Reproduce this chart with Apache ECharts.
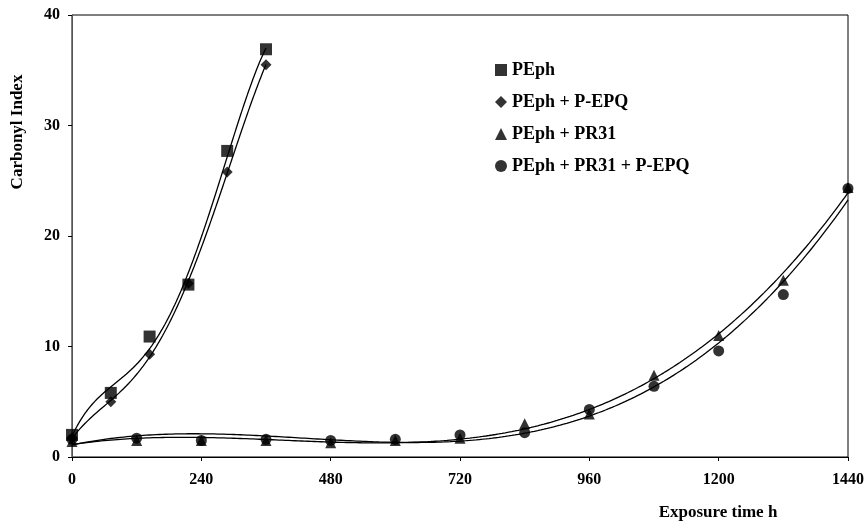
<!DOCTYPE html>
<html>
<head>
<meta charset="utf-8">
<script src="https://cdn.jsdelivr.net/npm/echarts@6/dist/echarts.min.js"></script>
<style>
  html, body { margin: 0; padding: 0; background: #fff; }
  #chart { width: 868px; height: 526px; }
</style>
</head>
<body>
<div id="chart"></div>
<script>
// Exposure times (h)
const timesShort = [0, 72, 144, 216, 288, 360];
const timesLong = [0, 120, 240, 360, 480, 600, 720, 840, 960, 1080, 1200, 1320, 1440];

// Carbonyl index per formulation
const pephValues = [2.0, 5.8, 10.9, 15.6, 27.7, 36.9];
const pephPepqValues = [1.7, 5.0, 9.3, 15.7, 25.8, 35.5];
const pephPr31Values = [1.4, 1.5, 1.5, 1.5, 1.3, 1.5, 1.7, 3.0, 3.9, 7.4, 11.0, 16.0, 24.4];
const pephPr31PepqValues = [1.6, 1.7, 1.5, 1.6, 1.5, 1.6, 2.0, 2.2, 4.3, 6.4, 9.6, 14.7, 24.3];

const seriesNames = ['PEph', 'PEph + P-EPQ', 'PEph + PR31', 'PEph + PR31 + P-EPQ'];
const xTicks = [0, 240, 480, 720, 960, 1200, 1440];

// Least-squares polynomial trend line, evaluated along the x range
function polyTrend(xs, ys, deg, steps) {
  const xmax = xs[xs.length - 1];
  const n = deg + 1;
  const A = Array.from({ length: n }, () => new Array(n).fill(0));
  const b = new Array(n).fill(0);
  xs.forEach((x, k) => {
    const t = x / xmax;
    for (let i = 0; i < n; i++) {
      b[i] += ys[k] * Math.pow(t, i);
      for (let j = 0; j < n; j++) A[i][j] += Math.pow(t, i + j);
    }
  });
  // Gaussian elimination with partial pivoting
  for (let c = 0; c < n; c++) {
    let p = c;
    for (let r = c + 1; r < n; r++) if (Math.abs(A[r][c]) > Math.abs(A[p][c])) p = r;
    [A[c], A[p]] = [A[p], A[c]];
    [b[c], b[p]] = [b[p], b[c]];
    for (let r = c + 1; r < n; r++) {
      const f = A[r][c] / A[c][c];
      for (let j = c; j < n; j++) A[r][j] -= f * A[c][j];
      b[r] -= f * b[c];
    }
  }
  const coef = new Array(n).fill(0);
  for (let i = n - 1; i >= 0; i--) {
    let s = b[i];
    for (let j = i + 1; j < n; j++) s -= A[i][j] * coef[j];
    coef[i] = s / A[i][i];
  }
  const out = [];
  for (let s = 0; s <= steps; s++) {
    const x = xmax * s / steps;
    const t = x / xmax;
    let y = 0;
    for (let i = 0; i < n; i++) y += coef[i] * Math.pow(t, i);
    out.push([x, y]);
  }
  return out;
}

const pair = (xs, ys) => xs.map((x, i) => [x, ys[i]]);
const serif = '"Liberation Serif", "DejaVu Serif", serif';

function markers(name, xs, ys, symbol, size) {
  return {
    name, type: 'scatter', data: pair(xs, ys), symbol, symbolSize: size,
    itemStyle: { color: '#000' }, z: 5
  };
}
function trend(xs, ys, deg) {
  return {
    type: 'line', data: polyTrend(xs, ys, deg, 240), symbol: 'none', silent: true,
    lineStyle: { color: '#000', width: 1.3 }, z: 3
  };
}

const chart = echarts.init(document.getElementById('chart'), null, { renderer: 'canvas' });
chart.setOption({
  animation: false,
  backgroundColor: '#fff',
  grid: {
    left: 72, top: 15, right: 20, bottom: 69, outerBoundsMode: 'none',
    show: true, borderColor: '#000', borderWidth: 1
  },
  legend: {
    data: [
      { name: seriesNames[0], icon: 'rect' },
      { name: seriesNames[1], icon: 'diamond' },
      { name: seriesNames[2], icon: 'triangle' },
      { name: seriesNames[3], icon: 'circle' }
    ],
    orient: 'vertical', left: 490, top: 56, itemWidth: 12, itemHeight: 12, itemGap: 14,
    textStyle: { fontFamily: serif, fontWeight: 'bold', fontSize: 18, color: '#000' }
  },
  xAxis: {
    type: 'value', min: 0, max: 1440, interval: 240,
    name: 'Exposure time h', nameLocation: 'middle', nameGap: 47,
    nameTextStyle: { fontFamily: serif, fontWeight: 'bold', fontSize: 17, color: '#000', padding: [0, 0, 0, 516] },
    axisLine: { lineStyle: { color: '#000', width: 1 } },
    axisTick: { show: true, length: 4, lineStyle: { color: '#000' } },
    axisLabel: {
      fontFamily: serif, fontWeight: 'bold', fontSize: 16, color: '#000', margin: 15,
      formatter: v => xTicks.includes(v) ? String(v) : ''
    },
    splitLine: { show: false }
  },
  yAxis: {
    type: 'value', min: 0, max: 40, interval: 10,
    name: 'Carbonyl Index', nameLocation: 'middle', nameGap: 46, nameRotate: 90,
    nameTextStyle: { fontFamily: serif, fontWeight: 'bold', fontSize: 17, color: '#000', padding: [0, 0, 0, 208] },
    axisLine: { show: true, lineStyle: { color: '#555', width: 1 } },
    axisTick: { show: true, length: 4, lineStyle: { color: '#000' } },
    axisLabel: { fontFamily: serif, fontWeight: 'bold', fontSize: 16, color: '#000', margin: 12 },
    splitLine: { show: false }
  },
  series: [
    markers(seriesNames[0], timesShort, pephValues, 'rect', 12),
    markers(seriesNames[1], timesShort, pephPepqValues, 'diamond', 11),
    markers(seriesNames[2], timesLong, pephPr31Values, 'triangle', 11),
    markers(seriesNames[3], timesLong, pephPr31PepqValues, 'circle', 11),
    trend(timesShort, pephValues, 4),
    trend(timesShort, pephPepqValues, 4),
    trend(timesLong, pephPr31Values, 3),
    trend(timesLong, pephPr31PepqValues, 3)
  ]
});
</script>
</body>
</html>
